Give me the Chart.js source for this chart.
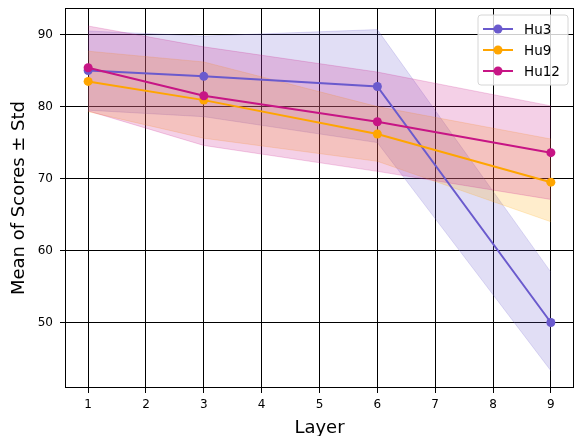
<!DOCTYPE html>
<html>
<head>
<meta charset="utf-8">
<script src="https://cdn.jsdelivr.net/npm/chart.js@4.4.1/dist/chart.umd.min.js"></script>
<style>
  html, body { margin: 0; padding: 0; background: #fff; overflow: hidden; }
  canvas { display: block; }
</style>
</head>
<body>
<canvas id="scoreChart" width="575" height="436"></canvas>
<script>
// data
const layers = [1, 3, 6, 9];
const seriesNames = ['Hu3', 'Hu9', 'Hu12'];
const seriesColors = ['#6A5ACD', '#FFA500', '#C71585'];

const hu3Mean  = [85.0, 84.2, 82.8, 50.0];
const hu3Upper = [90.5, 89.8, 90.7, 57.0];
const hu3Lower = [79.5, 78.6, 75.0, 43.3];

const hu9Mean  = [83.5, 80.9, 76.2, 69.5];
const hu9Upper = [87.7, 86.2, 80.0, 75.5];
const hu9Lower = [79.3, 75.6, 72.4, 64.0];

const hu12Mean  = [85.4, 81.5, 77.9, 73.6];
const hu12Upper = [91.2, 88.3, 84.8, 80.1];
const hu12Lower = [79.4, 74.6, 71.0, 67.1];

const xTicks = [1, 2, 3, 4, 5, 6, 7, 8, 9];
const yTicks = [50, 60, 70, 80, 90];

const means = [hu3Mean, hu9Mean, hu12Mean];
const uppers = [hu3Upper, hu9Upper, hu12Upper];
const lowers = [hu3Lower, hu9Lower, hu12Lower];

const FONT = 'DejaVu Sans';

function rgba(hex, a) {
  const n = parseInt(hex.slice(1), 16);
  return `rgba(${(n >> 16) & 255},${(n >> 8) & 255},${n & 255},${a})`;
}

function points(vals) {
  return layers.map((x, i) => ({x: x, y: vals[i]}));
}

const datasets = [];
// std bands first (drawn underneath)
seriesNames.forEach((name, i) => {
  const c = seriesColors[i];
  datasets.push({
    label: name + ' upper',
    data: points(uppers[i]),
    borderColor: rgba(c, 0.2),
    borderWidth: 1,
    pointRadius: 0,
    fill: false,
    order: 12 - i
  });
  datasets.push({
    label: name + ' lower',
    data: points(lowers[i]),
    borderColor: rgba(c, 0.2),
    backgroundColor: rgba(c, 0.2),
    borderWidth: 1,
    pointRadius: 0,
    fill: '-1',
    order: 12 - i
  });
});
// mean lines
seriesNames.forEach((name, i) => {
  datasets.push({
    label: name,
    data: points(means[i]),
    borderColor: seriesColors[i],
    backgroundColor: seriesColors[i],
    borderWidth: 2,
    pointRadius: 4.5,
    pointBorderWidth: 0,
    fill: false,
    tension: 0,
    order: 3 - i
  });
});

const framePlugin = {
  id: 'frame',
  afterDatasetsDraw(chart) {
    const {ctx, chartArea: a} = chart;
    ctx.save();
    ctx.strokeStyle = '#000';
    ctx.lineWidth = 1;
    ctx.strokeRect(Math.round(a.left) + 0.5, Math.round(a.top) + 0.5,
      Math.round(a.right - a.left) - 1, Math.round(a.bottom - a.top) - 1);
    ctx.restore();
  }
};

const legendPlugin = {
  id: 'boxLegend',
  afterDraw(chart) {
    const ctx = chart.ctx;
    const bx = 478, by = 15, bw = 90, bh = 70, r = 3;
    ctx.save();
    ctx.beginPath();
    ctx.moveTo(bx + r, by);
    ctx.arcTo(bx + bw, by, bx + bw, by + bh, r);
    ctx.arcTo(bx + bw, by + bh, bx, by + bh, r);
    ctx.arcTo(bx, by + bh, bx, by, r);
    ctx.arcTo(bx, by, bx + bw, by, r);
    ctx.closePath();
    ctx.fillStyle = 'rgba(255,255,255,0.8)';
    ctx.fill();
    ctx.strokeStyle = '#d6d6d6';
    ctx.lineWidth = 1;
    ctx.stroke();
    seriesNames.forEach((name, i) => {
      const y = 29 + i * 21;
      ctx.strokeStyle = seriesColors[i];
      ctx.lineWidth = 2;
      ctx.beginPath();
      ctx.moveTo(483, y);
      ctx.lineTo(513, y);
      ctx.stroke();
      ctx.fillStyle = seriesColors[i];
      ctx.beginPath();
      ctx.arc(498, y, 4.5, 0, Math.PI * 2);
      ctx.fill();
      ctx.fillStyle = '#000';
      ctx.font = '13.5px "' + FONT + '"';
      ctx.textBaseline = 'middle';
      ctx.textAlign = 'left';
      ctx.fillText(name, 524, y + 1);
    });
    ctx.restore();
  }
};

new Chart(document.getElementById('scoreChart').getContext('2d'), {
  type: 'line',
  data: {datasets: datasets},
  options: {
    responsive: false,
    animation: false,
    layout: {autoPadding: false, padding: {top: 8, right: 1, left: 0, bottom: 0}},
    plugins: {
      legend: {display: false},
      tooltip: {enabled: false},
      title: {display: false}
    },
    scales: {
      x: {
        type: 'linear',
        min: 0.6,
        max: 9.4,
        afterBuildTicks: s => { s.ticks = xTicks.map(v => ({value: v})); },
        afterFit: s => { s.height = 48; s.paddingLeft = 0; s.paddingRight = 0; },
        ticks: {font: {family: FONT, size: 12}, color: '#000', padding: 5, maxRotation: 0},
        grid: {color: '#000', lineWidth: 1, tickLength: 5},
        border: {display: false},
        title: {display: true, text: 'Layer', color: '#000',
          font: {family: FONT, size: 18, lineHeight: 1}, padding: {top: 0, bottom: -1}}
      },
      y: {
        type: 'linear',
        min: 40.9,
        max: 93.7,
        afterBuildTicks: s => { s.ticks = yTicks.map(v => ({value: v})); },
        afterFit: s => { s.width = 65; s.paddingTop = 0; s.paddingBottom = 0; },
        ticks: {font: {family: FONT, size: 12}, color: '#000', padding: 7},
        grid: {color: '#000', lineWidth: 1, tickLength: 5},
        border: {display: false},
        title: {display: true, text: 'Mean of Scores \u00b1 Std', color: '#000',
          font: {family: FONT, size: 18, lineHeight: 1}, padding: {top: 10, bottom: 0}}
      }
    }
  },
  plugins: [framePlugin, legendPlugin]
});
</script>
</body>
</html>
